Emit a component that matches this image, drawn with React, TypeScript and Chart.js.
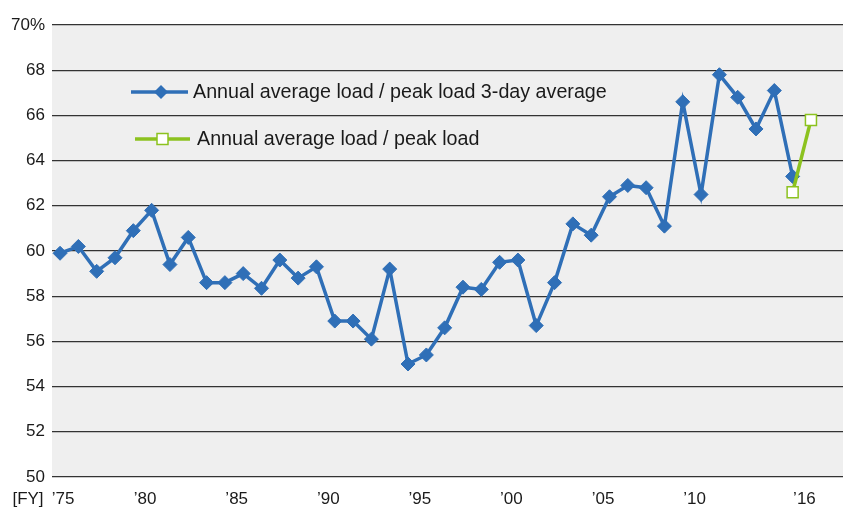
import React, { useEffect, useRef } from 'react';
import { Chart, registerables } from 'chart.js';
Chart.register(...registerables);

const years = [
  1975, 1976, 1977, 1978, 1979, 1980, 1981, 1982, 1983, 1984,
  1985, 1986, 1987, 1988, 1989, 1990, 1991, 1992, 1993, 1994,
  1995, 1996, 1997, 1998, 1999, 2000, 2001, 2002, 2003, 2004,
  2005, 2006, 2007, 2008, 2009, 2010, 2011, 2012, 2013, 2014, 2015,
];
const threeDayAvg = [
  59.9, 60.2, 59.1, 59.7, 60.9, 61.8, 59.4, 60.6, 58.6, 58.6,
  59.0, 58.35, 59.6, 58.8, 59.3, 56.9, 56.9, 56.1, 59.2, 55.0,
  55.4, 56.6, 58.4, 58.3, 59.5, 59.6, 56.7, 58.6, 61.2, 60.7,
  62.4, 62.9, 62.8, 61.1, 66.6, 62.5, 67.8, 66.8, 65.4, 67.1, 63.3,
];
const peakYears = [2015, 2016];
const annualPeak = [62.6, 65.8];
const xTickYears = [1975, 1980, 1985, 1990, 1995, 2000, 2005, 2010, 2016];
const legendLabels = [
  'Annual average load / peak load 3-day average',
  'Annual average load / peak load',
];

const BLUE = '#2f6fb7';
const GREEN = '#8cc21f';
const FONT = '"Liberation Sans", Arial, Helvetica, sans-serif';

export default function App() {
  const ref = useRef<HTMLCanvasElement | null>(null);
  useEffect(() => {
    document.body.style.margin = '0';
    const canvas = ref.current;
    if (!canvas) return;

    const bgPlugin = {
      id: 'bg',
      beforeDraw(chart: any) {
        const { ctx, chartArea } = chart;
        ctx.save();
        ctx.fillStyle = '#efefef';
        ctx.fillRect(chartArea.left, chartArea.top, chartArea.right - chartArea.left, chartArea.bottom - chartArea.top);
        ctx.restore();
      },
    };

    const legendPlugin = {
      id: 'customLegend',
      afterDraw(chart: any) {
        const { ctx } = chart;
        ctx.save();
        ctx.font = `19.7px ${FONT}`;
        ctx.textBaseline = 'middle';
        // item 1
        let y = 92;
        ctx.strokeStyle = BLUE;
        ctx.lineWidth = 3.5;
        ctx.beginPath();
        ctx.moveTo(131, y);
        ctx.lineTo(188, y);
        ctx.stroke();
        ctx.fillStyle = BLUE;
        ctx.beginPath();
        const r = 7;
        ctx.moveTo(161, y - r);
        ctx.lineTo(161 + r, y);
        ctx.lineTo(161, y + r);
        ctx.lineTo(161 - r, y);
        ctx.closePath();
        ctx.fill();
        ctx.fillStyle = '#1a1a1a';
        ctx.fillText(legendLabels[0], 193, y + 1);
        // item 2
        y = 139;
        ctx.strokeStyle = GREEN;
        ctx.lineWidth = 3.5;
        ctx.beginPath();
        ctx.moveTo(135, y);
        ctx.lineTo(190, y);
        ctx.stroke();
        ctx.fillStyle = '#ffffff';
        ctx.lineWidth = 1.5;
        ctx.fillRect(157, y - 5.5, 11, 11);
        ctx.strokeRect(157, y - 5.5, 11, 11);
        ctx.fillStyle = '#1a1a1a';
        ctx.fillText(legendLabels[1], 197, y + 1);
        // [FY]
        ctx.font = `17px ${FONT}`;
        ctx.textAlign = 'center';
        ctx.fillText('[FY]', 28, 499);
        ctx.restore();
      },
    };

    const chart = new Chart(canvas, {
      type: 'line',
      data: {
        datasets: [
          {
            label: legendLabels[1],
            data: peakYears.map((x, i) => ({ x, y: annualPeak[i] })),
            borderColor: GREEN,
            backgroundColor: '#ffffff',
            borderWidth: 3.5,
            pointStyle: 'rect',
            pointRadius: 7.8,
            pointBorderWidth: 1.5,
            pointBorderColor: GREEN,
            pointBackgroundColor: '#ffffff',
            order: 0,
          },
          {
            label: legendLabels[0],
            data: years.map((x, i) => ({ x, y: threeDayAvg[i] })),
            borderColor: BLUE,
            backgroundColor: BLUE,
            borderWidth: 3.5,
            pointStyle: 'rectRot',
            pointRadius: 7,
            pointBorderWidth: 1,
            pointBackgroundColor: BLUE,
            pointBorderColor: BLUE,
            order: 1,
          },
        ],
      },
      options: {
        animation: false,
        responsive: false,
        layout: { autoPadding: false, padding: { top: 25, right: 0, left: 0, bottom: 0 } },
        plugins: { legend: { display: false }, tooltip: { enabled: false } },
        scales: {
          x: {
            type: 'linear',
            min: 1974.56,
            max: 2017.75,
            afterBuildTicks(scale: any) {
              scale.ticks = xTickYears.map((v) => ({ value: v }));
            },
            afterFit(scale: any) {
              scale.height = 31;
              scale.paddingLeft = 0;
              scale.paddingRight = 0;
            },
            grid: { display: false, drawTicks: false },
            border: { display: false },
            ticks: {
              autoSkip: false,
              maxRotation: 0,
              padding: 12,
              labelOffset: -6.5,
              color: '#1a1a1a',
              font: { family: FONT, size: 17 },
              callback: (v: any) =>
                (v === xTickYears[0] ? '    ' : '') + '\u2019' + String(v).slice(2),
            },
          },
          y: {
            min: 50,
            max: 70,
            afterFit(scale: any) {
              scale.width = 52;
            },
            grid: { color: '#333333', lineWidth: 1.2, drawTicks: false },
            border: { display: false },
            ticks: {
              stepSize: 2,
              padding: 7,
              color: '#1a1a1a',
              font: { family: FONT, size: 17 },
              callback: (v: any) => (v === 70 ? '70%' : String(v)),
            },
          },
        },
      },
      plugins: [bgPlugin, legendPlugin],
    });
    return () => chart.destroy();
  }, []);
  return <canvas ref={ref} width={843} height={508} style={{ display: 'block' }} />;
}
